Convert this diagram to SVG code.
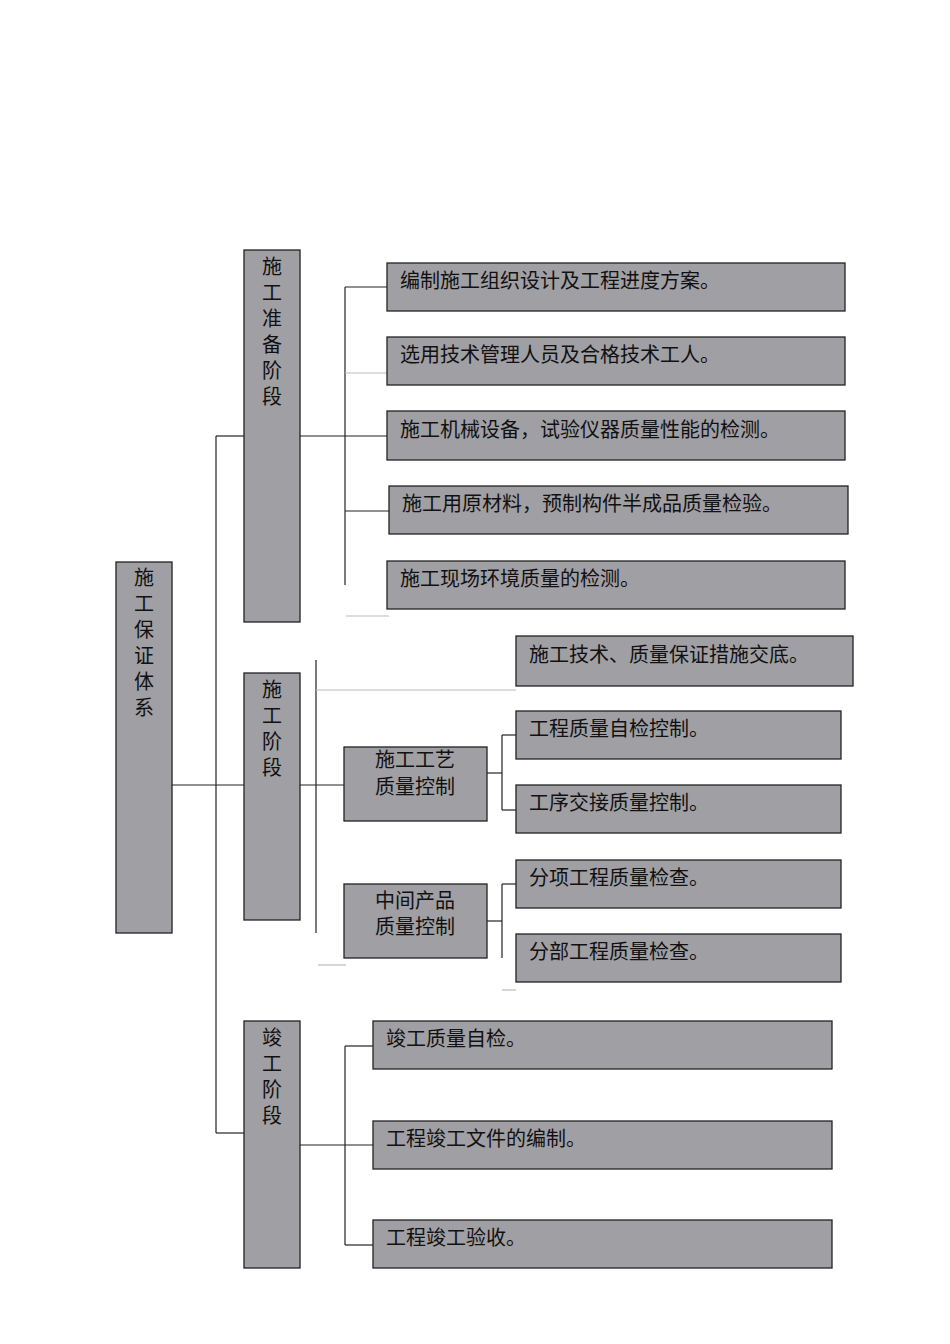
<svg xmlns="http://www.w3.org/2000/svg" width="950" height="1344" viewBox="0 0 950 1344">
<style>
.b{fill:#a09fa4;stroke:#222;stroke-width:1.3}
.t{font-family:"Liberation Serif","Noto Sans CJK SC",serif;font-size:20px;fill:#111}
.c line{stroke:#222;stroke-width:1.2}
.c line.l{stroke:#bbb}
</style>
<rect width="950" height="1344" fill="#fff"/>
<g class="c">
<line x1="216" y1="436" x2="216" y2="1133"/>
<line x1="216" y1="436" x2="244" y2="436"/>
<line x1="172" y1="785" x2="244" y2="785"/>
<line x1="216" y1="1133" x2="244" y2="1133"/>
<line x1="345" y1="287" x2="345" y2="585"/>
<line x1="345" y1="287" x2="387" y2="287"/>
<line class="l" x1="345" y1="373" x2="387" y2="373"/>
<line x1="300" y1="436" x2="387" y2="436"/>
<line x1="345" y1="511" x2="389" y2="511"/>
<line class="l" x1="346" y1="616" x2="389" y2="616"/>
<line x1="316" y1="660" x2="316" y2="933"/>
<line class="l" x1="316" y1="690" x2="516" y2="690"/>
<line x1="300" y1="785" x2="344" y2="785"/>
<line x1="502" y1="735" x2="502" y2="810"/>
<line x1="502" y1="735" x2="516" y2="735"/>
<line x1="502" y1="810" x2="516" y2="810"/>
<line x1="487" y1="773" x2="502" y2="773"/>
<line x1="502" y1="884" x2="502" y2="958"/>
<line x1="502" y1="884" x2="516" y2="884"/>
<line x1="487" y1="921" x2="502" y2="921"/>
<line class="l" x1="502" y1="990" x2="516" y2="990"/>
<line class="l" x1="318" y1="965" x2="346" y2="965"/>
<line x1="345" y1="1046" x2="345" y2="1245"/>
<line x1="345" y1="1046" x2="373" y2="1046"/>
<line x1="300" y1="1145" x2="373" y2="1145"/>
<line x1="345" y1="1245" x2="373" y2="1245"/>
</g>
<g id="root"><rect class="b" x="116" y="562" width="56" height="371"/>
<text class="t" x="144" text-anchor="middle"><tspan x="144" y="585">施</tspan><tspan x="144" y="611">工</tspan><tspan x="144" y="637">保</tspan><tspan x="144" y="663">证</tspan><tspan x="144" y="689">体</tspan><tspan x="144" y="715">系</tspan></text></g>
<g id="s1"><rect class="b" x="244" y="250" width="56" height="372"/>
<text class="t" text-anchor="middle"><tspan x="272" y="274">施</tspan><tspan x="272" y="300">工</tspan><tspan x="272" y="326">准</tspan><tspan x="272" y="352">备</tspan><tspan x="272" y="378">阶</tspan><tspan x="272" y="404">段</tspan></text></g>
<g id="s2"><rect class="b" x="244" y="673" width="56" height="247"/>
<text class="t" text-anchor="middle"><tspan x="272" y="697">施</tspan><tspan x="272" y="723">工</tspan><tspan x="272" y="749">阶</tspan><tspan x="272" y="775">段</tspan></text></g>
<g id="s3"><rect class="b" x="244" y="1021" width="56" height="247"/>
<text class="t" text-anchor="middle"><tspan x="272" y="1045">竣</tspan><tspan x="272" y="1071">工</tspan><tspan x="272" y="1097">阶</tspan><tspan x="272" y="1123">段</tspan></text></g>
<g id="a1"><rect class="b" x="387" y="263" width="458" height="48"/><text class="t" x="400" y="288">编制施工组织设计及工程进度方案。</text></g>
<g id="a2"><rect class="b" x="387" y="337" width="458" height="48"/><text class="t" x="400" y="362">选用技术管理人员及合格技术工人。</text></g>
<g id="a3"><rect class="b" x="387" y="411" width="458" height="49"/><text class="t" x="400" y="437">施工机械设备，试验仪器质量性能的检测。</text></g>
<g id="a4"><rect class="b" x="389" y="486" width="459" height="48"/><text class="t" x="402" y="511">施工用原材料，预制构件半成品质量检验。</text></g>
<g id="a5"><rect class="b" x="387" y="561" width="458" height="48"/><text class="t" x="400" y="586">施工现场环境质量的检测。</text></g>
<g id="b0"><rect class="b" x="516" y="636" width="337" height="50"/><text class="t" x="529" y="662">施工技术、质量保证措施交底。</text></g>
<g id="m1"><rect class="b" x="344" y="747" width="143" height="74"/><text class="t" text-anchor="middle"><tspan x="415" y="767">施工工艺</tspan><tspan x="415" y="794">质量控制</tspan></text></g>
<g id="m2"><rect class="b" x="344" y="884" width="143" height="74"/><text class="t" text-anchor="middle"><tspan x="415" y="908">中间产品</tspan><tspan x="415" y="934">质量控制</tspan></text></g>
<g id="b1"><rect class="b" x="516" y="711" width="325" height="48"/><text class="t" x="529" y="736">工程质量自检控制。</text></g>
<g id="b2"><rect class="b" x="516" y="785" width="325" height="48"/><text class="t" x="529" y="810">工序交接质量控制。</text></g>
<g id="b3"><rect class="b" x="516" y="860" width="325" height="48"/><text class="t" x="529" y="885">分项工程质量检查。</text></g>
<g id="b4"><rect class="b" x="516" y="934" width="325" height="48"/><text class="t" x="529" y="959">分部工程质量检查。</text></g>
<g id="c1"><rect class="b" x="373" y="1021" width="459" height="48"/><text class="t" x="386" y="1046">竣工质量自检。</text></g>
<g id="c2"><rect class="b" x="373" y="1121" width="459" height="48"/><text class="t" x="386" y="1146">工程竣工文件的编制。</text></g>
<g id="c3"><rect class="b" x="373" y="1220" width="459" height="48"/><text class="t" x="386" y="1245">工程竣工验收。</text></g>
</svg>
